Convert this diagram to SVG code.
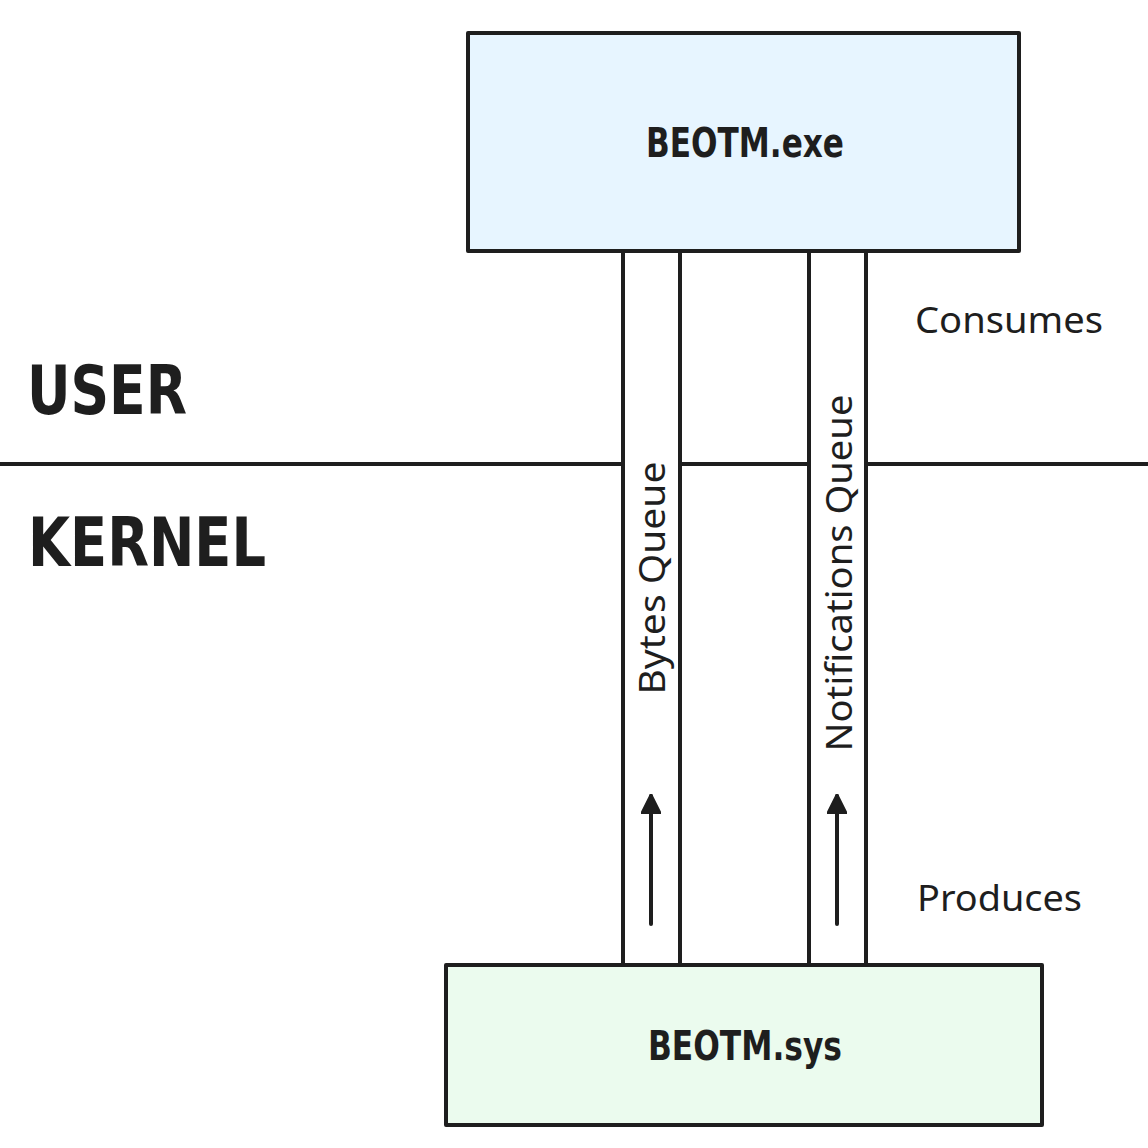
<svg xmlns="http://www.w3.org/2000/svg" width="1148" height="1148" viewBox="0 0 1148 1148">
<style>
.box{stroke:#1e1e1e;stroke-width:4;stroke-linejoin:round}
.tube{fill:#ffffff;stroke:#1e1e1e;stroke-width:4}
.ln{stroke:#1e1e1e;stroke-width:4;fill:none;stroke-linecap:round}
.hd{font-family:"DejaVu Sans",sans-serif;font-weight:bold;font-stretch:condensed;fill:#1e1e1e}
.nm{font-family:"Noto Sans","Open Sans",sans-serif;fill:#1e1e1e;font-size:36px}
</style>
<defs>
<marker id="ah" viewBox="0 0 10 10" refX="9" refY="5" markerWidth="5" markerHeight="5" orient="auto" markerUnits="strokeWidth">
<path d="M0,0 L10,5 L0,10 z" fill="#1e1e1e" stroke="#1e1e1e" stroke-linejoin="round"/>
</marker>
</defs>
<rect width="1148" height="1148" fill="#ffffff"/>
<g id="divider">
<line class="ln" x1="0" y1="464" x2="1148" y2="464" stroke-linecap="butt"/>
</g>
<g id="user-label"><text class="hd" x="27" y="414" font-size="68" textLength="160" lengthAdjust="spacingAndGlyphs">USER</text></g>
<g id="kernel-label"><text class="hd" x="28" y="566" font-size="68" textLength="238" lengthAdjust="spacingAndGlyphs">KERNEL</text></g>
<g id="connectors">
<g id="bytes-queue">
<rect class="tube" x="623" y="251" width="57" height="714"/>
<text class="nm" transform="translate(651,578) rotate(-90)" text-anchor="middle" dominant-baseline="central" textLength="233" lengthAdjust="spacingAndGlyphs">Bytes Queue</text>
<line class="ln" x1="651" y1="924" x2="651" y2="796" marker-end="url(#ah)"/>
</g>
<g id="notifications-queue">
<rect class="tube" x="809" y="251" width="57" height="714"/>
<text class="nm" transform="translate(838,573) rotate(-90)" text-anchor="middle" dominant-baseline="central" textLength="357" lengthAdjust="spacingAndGlyphs">Notifications Queue</text>
<line class="ln" x1="837" y1="924" x2="837" y2="796" marker-end="url(#ah)"/>
</g>
</g>
<g id="beotm-exe">
<rect class="box" x="468" y="33" width="551" height="218" fill="#e7f5ff"/>
<text class="hd" x="745" y="157" font-size="40" text-anchor="middle" textLength="198" lengthAdjust="spacingAndGlyphs">BEOTM.exe</text>
</g>
<g id="beotm-sys">
<rect class="box" x="446" y="965" width="596" height="160" fill="#ebfbee"/>
<text class="hd" x="745" y="1060" font-size="40" text-anchor="middle" textLength="194" lengthAdjust="spacingAndGlyphs">BEOTM.sys</text>
</g>
<g id="consumes"><text class="nm" x="915" y="333" textLength="188" lengthAdjust="spacingAndGlyphs">Consumes</text></g>
<g id="produces"><text class="nm" x="917" y="911" textLength="165" lengthAdjust="spacingAndGlyphs">Produces</text></g>
</svg>
